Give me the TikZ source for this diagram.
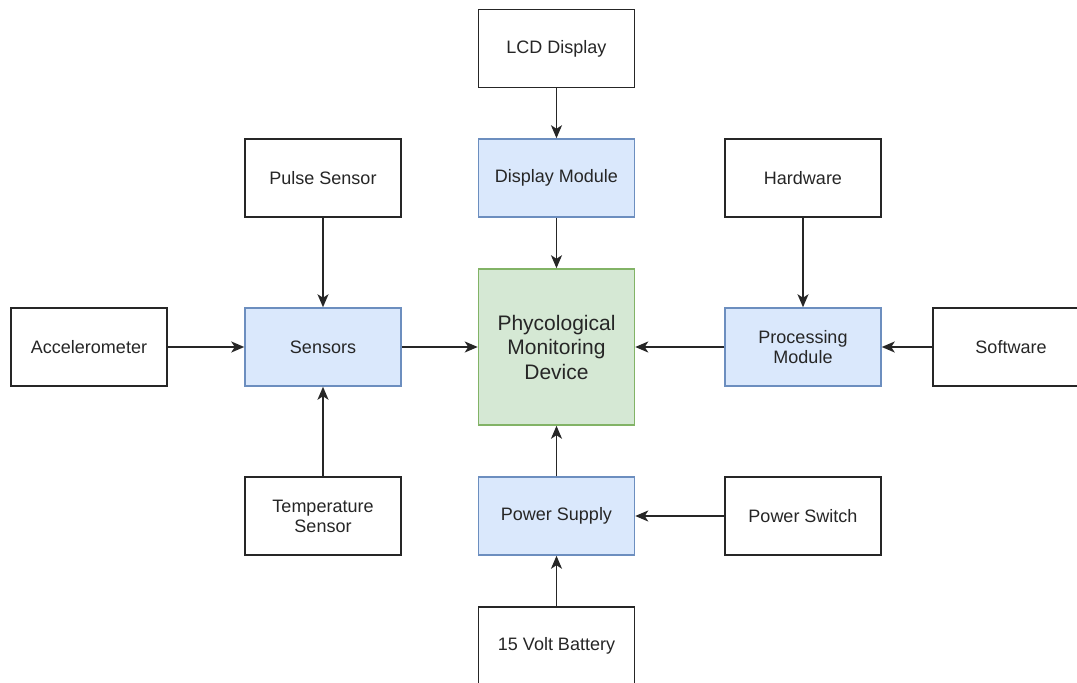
\documentclass[tikz,border=0pt]{standalone}
\usepackage{fontspec}
\setmainfont{Liberation Sans}
\usetikzlibrary{arrows.meta}
\begin{document}
\begin{tikzpicture}[x=1pt,y=-1pt,
  box/.style={draw=black!85,line width=1.5pt,fill=white,minimum width=156pt,minimum height=78pt,inner sep=2pt,align=center,font=\fontsize{18}{20}\selectfont,text=black!85},
  bluebox/.style={box,draw={rgb,255:red,108;green,142;blue,191},fill={rgb,255:red,218;green,232;blue,252}},
  greenbox/.style={box,draw={rgb,255:red,130;green,179;blue,102},fill={rgb,255:red,213;green,232;blue,212},minimum height=156pt,font=\fontsize{21}{24.5}\selectfont},
  conn/.style={line width=1.5pt,draw=black!85,-{Stealth[length=13pt,width=11pt,inset=3.5pt]}}]
\useasboundingbox (0,0) rectangle (1077,683);
\clip (0,0) rectangle (1077,683);
\fill[white] (0,0) rectangle (1077,683);
\node[box] (lcd) at (556.5,48.5) {LCD Display};
\node[bluebox] (disp) at (556.5,178) {Display Module};
\node[box] (pulse) at (323,178) {Pulse Sensor};
\node[box] (hw) at (803,178) {Hardware};
\node[box] (acc) at (89,347) {Accelerometer};
\node[bluebox] (sens) at (323,347) {Sensors};
\node[greenbox] (dev) at (556.5,347) {Phycological\\Monitoring\\Device};
\node[bluebox] (proc) at (803,347) {Processing\\Module};
\node[box] (sw) at (1011,347) {Software};
\node[box] (temp) at (323,516) {Temperature\\Sensor};
\node[bluebox] (ps) at (556.5,516) {Power Supply};
\node[box] (psw) at (803,516) {Power Switch};
\node[box] (bat) at (556.5,646) {15 Volt Battery};
\draw[conn] (lcd) -- (disp);
\draw[conn] (disp) -- (dev);
\draw[conn] (pulse) -- (sens);
\draw[conn] (acc) -- (sens);
\draw[conn] (temp) -- (sens);
\draw[conn] (sens) -- (dev);
\draw[conn] (hw) -- (proc);
\draw[conn] (sw) -- (proc);
\draw[conn] (proc) -- (dev);
\draw[conn] (psw) -- (ps);
\draw[conn] (bat) -- (ps);
\draw[conn] (ps) -- (dev);
\end{tikzpicture}
\end{document}
